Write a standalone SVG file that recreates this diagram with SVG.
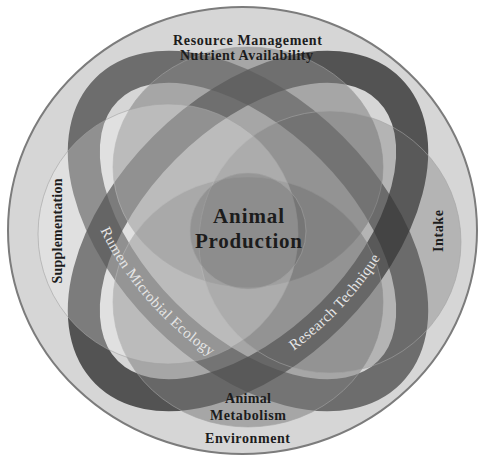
<svg xmlns="http://www.w3.org/2000/svg" width="481" height="457" viewBox="0 0 481 457">
<defs>
<style>
.lbl{font-family:"Liberation Serif","Times New Roman",serif;font-weight:bold;fill:#1c1c1c;text-anchor:middle}
.bt{font-family:"Liberation Serif","Times New Roman",serif;font-size:15px;fill:#e6e6e6;letter-spacing:0.3px;text-anchor:middle}
.edge{stroke:#a4a4a4;stroke-width:1;stroke-opacity:0.6}
.band{fill:none;stroke-width:32}
</style>
<path id="pA" d="M 106.6 89.6 A 200 118 45 0 0 389.4 372.4"/>
<path id="pB" d="M 106.6 372.4 A 200 118 -45 0 0 389.4 89.6"/>
</defs>
<rect width="481" height="457" fill="#ffffff"/>
<g id="environment-ring">
<ellipse cx="242.5" cy="230.5" rx="234.5" ry="223.5" fill="#d6d6d6" stroke="#7c7c7c" stroke-width="2"/>
</g>
<g id="connectors">
<ellipse id="band-rumen" class="band" cx="248" cy="231" rx="200" ry="118" transform="rotate(45 248 231)" stroke="#404040" stroke-opacity="0.7"/>
<ellipse id="band-research" class="band" cx="248" cy="231" rx="200" ry="118" transform="rotate(-45 248 231)" stroke="#202020" stroke-opacity="0.72"/>
</g>
<g id="resource">
<ellipse class="edge" cx="248" cy="167" rx="135" ry="120" fill="#838383" fill-opacity="0.58"/>
</g>
<g id="metabolism">
<ellipse class="edge" cx="248" cy="302" rx="135" ry="125" fill="#7a7a7a" fill-opacity="0.52"/>
</g>
<g id="intake">
<circle class="edge" cx="330" cy="242" r="131" fill="#666666" fill-opacity="0.3"/>
</g>
<g id="supplementation">
<circle class="edge" cx="168" cy="234" r="130" fill="#ffffff" fill-opacity="0.24"/>
</g>
<g id="production">
<circle class="edge" cx="248" cy="231" r="58" fill="#555555" fill-opacity="0.25"/>
</g>
<g id="labels">
<text class="lbl" x="247.5" y="45" font-size="14" textLength="149" lengthAdjust="spacing">Resource Management</text>
<text class="lbl" x="246.5" y="60" font-size="14" textLength="133" lengthAdjust="spacing">Nutrient Availability</text>
<text class="lbl" x="248.5" y="223" font-size="21" textLength="71" lengthAdjust="spacing">Animal</text>
<text class="lbl" x="248.5" y="248" font-size="21" textLength="107" lengthAdjust="spacing">Production</text>
<text class="lbl" transform="translate(62 231) rotate(-90)" x="0" y="0" font-size="14" textLength="105" lengthAdjust="spacing">Supplementation</text>
<text class="lbl" transform="translate(443 231) rotate(-90)" x="0" y="0" font-size="14" textLength="42" lengthAdjust="spacing">Intake</text>
<text class="lbl" x="248" y="403" font-size="14" textLength="46" lengthAdjust="spacing">Animal</text>
<text class="lbl" x="248" y="420" font-size="14" textLength="76" lengthAdjust="spacing">Metabolism</text>
<text class="lbl" x="247.5" y="443" font-size="14" textLength="85" lengthAdjust="spacing">Environment</text>
<text class="bt" dy="5"><textPath href="#pA" startOffset="230">Rumen Microbial Ecology</textPath></text>
<text class="bt" dy="5"><textPath href="#pB" startOffset="263">Research Technique</textPath></text>
</g>
</svg>
